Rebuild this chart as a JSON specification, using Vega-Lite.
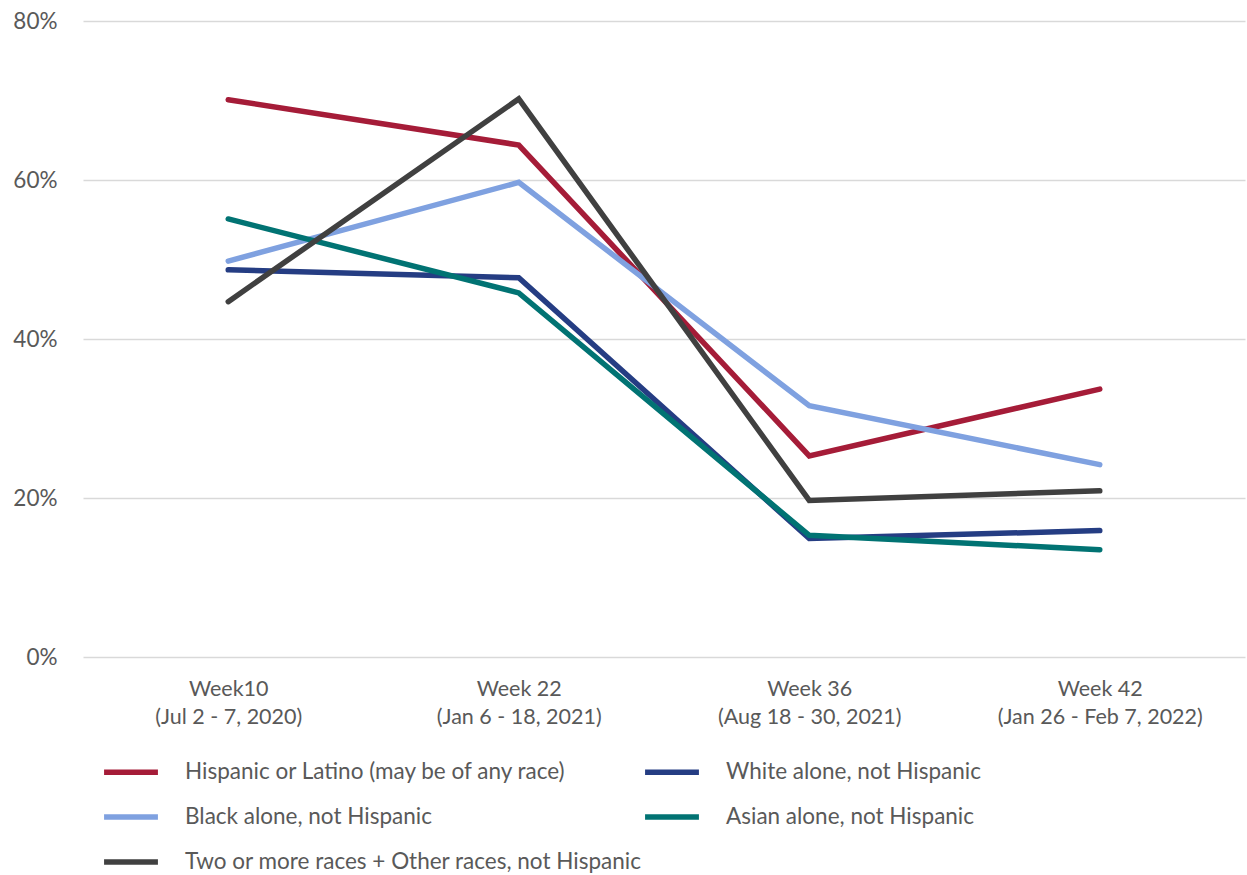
{
  "$schema": "https://vega.github.io/schema/vega-lite/v6.json",
  "autosize": {"type": "none"},
  "padding": {"left": 83, "top": 21, "right": 2, "bottom": 218},
  "width": 1162,
  "height": 636,
  "background": "white",
  "config": {
    "font": "Lato",
    "view": {"stroke": null}
  },
  "data": {
    "values": [
      {"week": "Week10|(Jul 2 - 7, 2020)", "group": "Hispanic or Latino (may be of any race)", "share": 0.701},
      {"week": "Week 22|(Jan 6 - 18, 2021)", "group": "Hispanic or Latino (may be of any race)", "share": 0.644},
      {"week": "Week 36|(Aug 18 - 30, 2021)", "group": "Hispanic or Latino (may be of any race)", "share": 0.253},
      {"week": "Week 42|(Jan 26 - Feb 7, 2022)", "group": "Hispanic or Latino (may be of any race)", "share": 0.337},
      {"week": "Week10|(Jul 2 - 7, 2020)", "group": "White alone, not Hispanic", "share": 0.487},
      {"week": "Week 22|(Jan 6 - 18, 2021)", "group": "White alone, not Hispanic", "share": 0.477},
      {"week": "Week 36|(Aug 18 - 30, 2021)", "group": "White alone, not Hispanic", "share": 0.149},
      {"week": "Week 42|(Jan 26 - Feb 7, 2022)", "group": "White alone, not Hispanic", "share": 0.159},
      {"week": "Week10|(Jul 2 - 7, 2020)", "group": "Black alone, not Hispanic", "share": 0.498},
      {"week": "Week 22|(Jan 6 - 18, 2021)", "group": "Black alone, not Hispanic", "share": 0.597},
      {"week": "Week 36|(Aug 18 - 30, 2021)", "group": "Black alone, not Hispanic", "share": 0.316},
      {"week": "Week 42|(Jan 26 - Feb 7, 2022)", "group": "Black alone, not Hispanic", "share": 0.242},
      {"week": "Week10|(Jul 2 - 7, 2020)", "group": "Asian alone, not Hispanic", "share": 0.551},
      {"week": "Week 22|(Jan 6 - 18, 2021)", "group": "Asian alone, not Hispanic", "share": 0.458},
      {"week": "Week 36|(Aug 18 - 30, 2021)", "group": "Asian alone, not Hispanic", "share": 0.153},
      {"week": "Week 42|(Jan 26 - Feb 7, 2022)", "group": "Asian alone, not Hispanic", "share": 0.135},
      {"week": "Week10|(Jul 2 - 7, 2020)", "group": "Two or more races + Other races, not Hispanic", "share": 0.447},
      {"week": "Week 22|(Jan 6 - 18, 2021)", "group": "Two or more races + Other races, not Hispanic", "share": 0.702},
      {"week": "Week 36|(Aug 18 - 30, 2021)", "group": "Two or more races + Other races, not Hispanic", "share": 0.197},
      {"week": "Week 42|(Jan 26 - Feb 7, 2022)", "group": "Two or more races + Other races, not Hispanic", "share": 0.209}
    ]
  },
  "mark": {"type": "line", "strokeWidth": 5.5, "strokeCap": "round", "strokeJoin": "miter"},
  "encoding": {
    "x": {
      "field": "week",
      "type": "nominal",
      "sort": null,
      "scale": {"type": "point", "padding": 0.5},
      "axis": {
        "title": null,
        "domain": false,
        "ticks": false,
        "grid": false,
        "labelAngle": 0,
        "labelExpr": "split(datum.value, '|')",
        "labelFontSize": 21.5,
        "labelColor": "#595959",
        "labelLineHeight": 28,
        "labelPadding": 21,
        "labelBaseline": "top",
        "labelLimit": 400
      }
    },
    "y": {
      "field": "share",
      "type": "quantitative",
      "scale": {"domain": [0, 0.8], "nice": false},
      "axis": {
        "title": null,
        "values": [0, 0.2, 0.4, 0.6, 0.8],
        "format": ".0%",
        "domain": false,
        "ticks": false,
        "grid": true,
        "gridColor": "#D9D9D9",
        "gridWidth": 1.5,
        "labelFontSize": 22.5,
        "labelColor": "#595959",
        "labelPadding": 26
      }
    },
    "color": {
      "field": "group",
      "type": "nominal",
      "sort": null,
      "scale": {
        "domain": [
          "Hispanic or Latino (may be of any race)",
          "White alone, not Hispanic",
          "Black alone, not Hispanic",
          "Asian alone, not Hispanic",
          "Two or more races + Other races, not Hispanic"
        ],
        "range": ["#A51C38", "#253D83", "#7FA1E0", "#017373", "#404040"]
      },
      "legend": {
        "title": null,
        "orient": "none",
        "legendX": 18,
        "legendY": 721,
        "direction": "horizontal",
        "columns": 2,
        "symbolType": "stroke",
        "symbolSize": 2900,
        "symbolStrokeWidth": 5.5,
        "labelFontSize": 22.5,
        "labelColor": "#595959",
        "labelOffset": 24,
        "columnPadding": -19,
        "rowPadding": 3,
        "labelLimit": 600
      }
    }
  }
}
